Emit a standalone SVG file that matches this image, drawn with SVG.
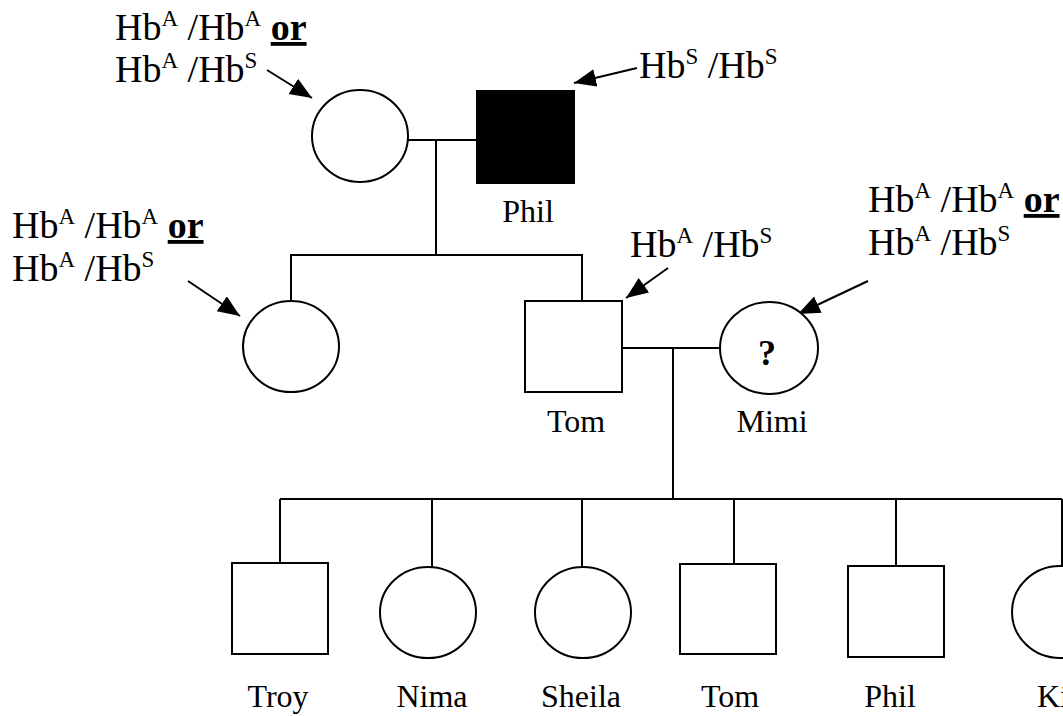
<svg xmlns="http://www.w3.org/2000/svg" width="1063" height="716" viewBox="0 0 1063 716">
  <style>
    .ln { stroke: #000; stroke-width: 2; fill: none; }
    .sym { fill: #fff; stroke: #000; stroke-width: 2; }
    .aff { fill: #000; stroke: #000; stroke-width: 2; }
    .ptr { stroke: #000; stroke-width: 2; fill: none; marker-end: url(#head); }
    .gt { font-family: "Liberation Serif", "Times New Roman", serif; font-size: 38px; fill: #000; white-space: pre; }
    .sup { font-size: 23px; }
    .or { font-weight: bold; text-decoration: underline; }
    .nm { font-family: "Liberation Serif", "Times New Roman", serif; font-size: 32px; fill: #000; text-anchor: middle; }
    .q { font-family: "Liberation Serif", "Times New Roman", serif; font-size: 36px; font-weight: bold; text-anchor: middle; }
  </style>
  <defs>
    <marker id="head" markerUnits="userSpaceOnUse" markerWidth="24" markerHeight="20" refX="22" refY="9" orient="auto">
      <path d="M0,0 L22,9 L0,18 Z" fill="#000"/>
    </marker>
  </defs>
  <rect width="1063" height="716" fill="#fff"/>

  <!-- pedigree lines -->
  <g id="connectors">
    <!-- generation I mating and descent -->
    <line class="ln" x1="408" y1="140" x2="477" y2="140"/>
    <line class="ln" x1="436" y1="140" x2="436" y2="255"/>
    <polyline class="ln" points="291,301 291,255 582,255 582,301"/>
    <!-- generation II mating and descent -->
    <line class="ln" x1="622" y1="348" x2="720" y2="348"/>
    <line class="ln" x1="673" y1="348" x2="673" y2="499"/>
    <line class="ln" x1="280" y1="499" x2="1062" y2="499"/>
    <line class="ln" x1="280" y1="499" x2="280" y2="563"/>
    <line class="ln" x1="432" y1="499" x2="432" y2="567"/>
    <line class="ln" x1="582" y1="499" x2="582" y2="567"/>
    <line class="ln" x1="734" y1="499" x2="734" y2="564"/>
    <line class="ln" x1="896" y1="499" x2="896" y2="566"/>
    <line class="ln" x1="1062" y1="499" x2="1062" y2="566"/>
    <!-- genotype pointers -->
    <line class="ptr" x1="267" y1="70" x2="312" y2="98"/>
    <line class="ptr" x1="637" y1="68" x2="574" y2="83"/>
    <line class="ptr" x1="188" y1="281" x2="240" y2="316"/>
    <line class="ptr" x1="668" y1="268" x2="626" y2="298"/>
    <line class="ptr" x1="868" y1="281" x2="798" y2="314"/>
  </g>

  <!-- generation I -->
  <g id="grandmother">
    <ellipse class="sym" cx="360" cy="136" rx="48" ry="46"/>
    <text class="gt" x="115" y="40">Hb<tspan class="sup" dy="-14">A</tspan><tspan dy="14"> /Hb</tspan><tspan class="sup" dy="-14">A</tspan><tspan dy="14"> </tspan><tspan class="or">or</tspan></text>
    <text class="gt" x="115" y="82">Hb<tspan class="sup" dy="-14">A</tspan><tspan dy="14"> /Hb</tspan><tspan class="sup" dy="-14">S</tspan></text>
  </g>
  <g id="grandfather-phil">
    <rect class="aff" x="477" y="91" width="97" height="92"/>
    <text class="nm" x="528" y="222">Phil</text>
    <text class="gt" x="639" y="78">Hb<tspan class="sup" dy="-14">S</tspan><tspan dy="14"> /Hb</tspan><tspan class="sup" dy="-14">S</tspan></text>
  </g>

  <!-- generation II -->
  <g id="aunt">
    <ellipse class="sym" cx="291" cy="346.5" rx="48" ry="45.5"/>
    <text class="gt" x="12" y="238">Hb<tspan class="sup" dy="-14">A</tspan><tspan dy="14"> /Hb</tspan><tspan class="sup" dy="-14">A</tspan><tspan dy="14"> </tspan><tspan class="or">or</tspan></text>
    <text class="gt" x="12" y="281">Hb<tspan class="sup" dy="-14">A</tspan><tspan dy="14"> /Hb</tspan><tspan class="sup" dy="-14">S</tspan></text>
  </g>
  <g id="father-tom">
    <rect class="sym" x="525" y="301" width="97" height="91"/>
    <text class="nm" x="576" y="432">Tom</text>
    <text class="gt" x="630" y="257">Hb<tspan class="sup" dy="-14">A</tspan><tspan dy="14"> /Hb</tspan><tspan class="sup" dy="-14">S</tspan></text>
  </g>
  <g id="mother-mimi">
    <ellipse class="sym" cx="769" cy="348" rx="49" ry="46"/>
    <text class="q" x="767" y="365">?</text>
    <text class="nm" x="772" y="432">Mimi</text>
    <text class="gt" x="868" y="212">Hb<tspan class="sup" dy="-14">A</tspan><tspan dy="14"> /Hb</tspan><tspan class="sup" dy="-14">A</tspan><tspan dy="14"> </tspan><tspan class="or">or</tspan></text>
    <text class="gt" x="868" y="255">Hb<tspan class="sup" dy="-14">A</tspan><tspan dy="14"> /Hb</tspan><tspan class="sup" dy="-14">S</tspan></text>
  </g>

  <!-- generation III -->
  <g id="child-troy">
    <rect class="sym" x="232" y="563" width="96" height="91"/>
    <text class="nm" x="278" y="707">Troy</text>
  </g>
  <g id="child-nima">
    <ellipse class="sym" cx="428" cy="612.5" rx="48" ry="45.5"/>
    <text class="nm" x="432" y="707">Nima</text>
  </g>
  <g id="child-sheila">
    <ellipse class="sym" cx="583" cy="612.5" rx="48" ry="45.5"/>
    <text class="nm" x="581" y="707">Sheila</text>
  </g>
  <g id="child-tom">
    <rect class="sym" x="680" y="564" width="96" height="90"/>
    <text class="nm" x="730" y="707">Tom</text>
  </g>
  <g id="child-phil">
    <rect class="sym" x="848" y="566" width="96" height="91"/>
    <text class="nm" x="890" y="707">Phil</text>
  </g>
  <g id="child-kim">
    <ellipse class="sym" cx="1060" cy="612" rx="48" ry="46"/>
    <text class="nm" x="1037" y="707" style="text-anchor:start">Kim</text>
  </g>
</svg>
